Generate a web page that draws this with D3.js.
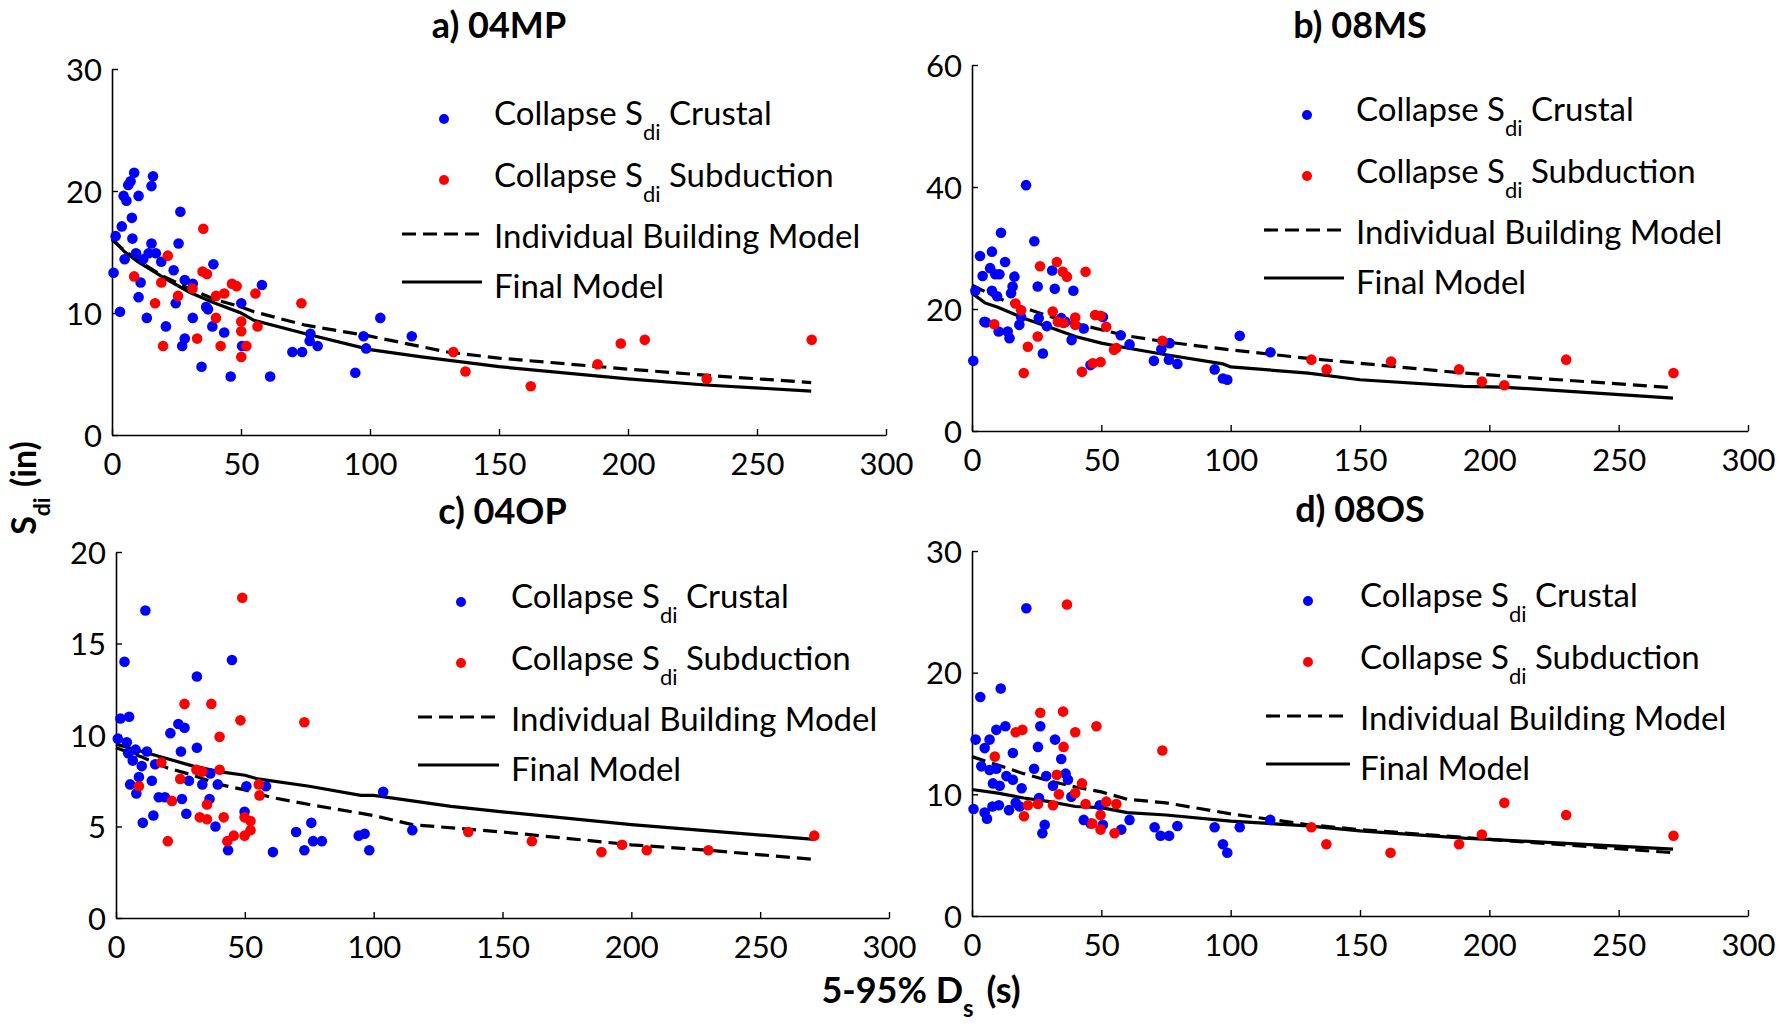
<!DOCTYPE html>
<html>
<head>
<meta charset="utf-8">
<script src="https://cdn.jsdelivr.net/npm/d3@7"></script>
<style>
  html, body { margin: 0; padding: 0; background: #fff; }
  svg { display: block; font-family: Lato, "Open Sans", sans-serif; }
</style>
</head>
<body>
<svg id="chart" width="1779" height="1024"></svg>
<script>
// ---- Data: 5-95% significant duration Ds (s) vs collapse Sdi (in) ----
const xTicks = [0, 50, 100, 150, 200, 250, 300];

// a) 04MP
const crustal04MP = [[0.6,13.3],[1.4,16.3],[3.1,10.1],[3.8,17.1],[4.9,14.4],[4.5,19.6],[5.6,19.2],[6.3,20.5],[7.2,20.8],[8.6,21.5],[7.7,17.8],[7.9,16.1],[9.3,14.9],[10.3,19.6],[11.1,12.5],[10.3,11.3],[12.1,14.4],[13.5,9.6],[14.2,14.9],[15.3,15.7],[15.3,20.4],[15.9,21.2],[17.0,14.9],[19.1,14.2],[20.9,8.9],[23.9,13.5],[24.7,10.8],[25.8,15.7],[26.5,18.3],[27.2,7.3],[28.2,12.7],[28.2,7.9],[31.3,12.4],[31.3,9.6],[34.7,5.6],[36.5,10.5],[37.2,10.3],[38.9,8.9],[39.3,14.0],[43.5,8.4],[46.0,4.8],[50.1,10.8],[50.4,7.3],[58.1,12.3],[61.3,4.8],[69.9,6.8],[73.7,6.8],[76.6,7.7],[76.9,8.3],[79.7,7.3],[94.3,5.1],[97.5,8.1],[98.5,7.1],[104.0,9.6],[116.2,8.1]];
const subduction04MP = [[8.6,13.0],[16.7,10.8],[19.8,7.3],[19.1,12.5],[21.6,14.7],[25.6,11.4],[33.0,7.9],[31.2,12.0],[35.4,16.9],[35.1,13.4],[36.8,13.2],[40.3,11.4],[40.3,9.6],[42.1,7.3],[43.5,11.6],[46.5,12.4],[48.3,12.2],[50.1,9.3],[50.1,8.5],[50.1,6.4],[52.1,7.3],[55.6,11.6],[56.4,8.9],[73.4,10.8],[132.3,6.8],[137.0,5.2],[162.3,4.0],[188.2,5.8],[197.2,7.5],[206.5,7.8],[230.5,4.6],[271.2,7.8]];
const individual04MP = [[0,16.0],[5,15.1],[10,14.3],[20,13.0],[30,12.0],[40,11.1],[50,10.5],[55,10.1],[75,9.0],[100,8.1],[130,6.8],[150,6.3],[200,5.4],[230,4.9],[271,4.3]];
const final04MP = [[0,16.1],[5,15.0],[10,14.2],[20,12.9],[30,11.7],[40,10.8],[50,10.0],[55,9.4],[75,8.3],[100,7.0],[120,6.4],[150,5.6],[200,4.6],[230,4.1],[271,3.6]];
const yTicks04MP = [0, 10, 20, 30];

// b) 08MS
const crustal08MS = [[0.5,11.5],[1.3,23.0],[3.1,28.7],[4.1,25.4],[4.8,17.9],[5.4,17.8],[7.0,26.7],[7.7,29.4],[7.7,23.0],[9.0,25.7],[10.6,25.7],[9.7,22.1],[10.3,16.3],[11.2,32.5],[12.8,27.7],[13.8,16.3],[14.5,15.2],[15.1,22.6],[15.7,23.7],[16.4,25.3],[18.3,17.4],[19.0,18.7],[20.9,40.3],[24.1,31.1],[25.4,23.7],[25.8,18.5],[27.4,12.7],[28.9,17.2],[31.0,26.3],[32.0,23.3],[34.5,18.5],[36.1,17.9],[38.5,14.9],[39.2,23.0],[43.2,16.8],[45.8,10.8],[50.6,18.7],[57.5,15.7],[60.9,14.2],[70.3,11.5],[73.2,13.4],[76.4,14.4],[76.1,11.7],[79.4,11.0],[93.8,10.1],[97.0,8.6],[98.7,8.4],[103.5,15.6],[115.4,12.9]];
const subduction08MS = [[8.6,17.5],[16.8,20.9],[19.0,19.8],[20.0,9.5],[21.6,13.8],[25.4,15.5],[26.3,27.0],[31.2,19.6],[32.8,27.7],[33.2,17.9],[35.1,26.1],[35.4,17.7],[36.7,25.3],[39.9,18.6],[39.9,17.4],[42.5,9.7],[43.9,26.1],[46.7,11.1],[47.6,19.0],[49.7,11.3],[49.7,18.9],[51.9,17.1],[54.9,13.3],[55.8,13.6],[73.6,14.8],[131.2,11.7],[137.1,10.1],[162.0,11.4],[188.3,10.1],[197.1,8.1],[205.8,7.5],[229.7,11.7],[271.2,9.5]];
const individual08MS = [[0,23.9],[10,21.8],[20,20.2],[30,18.8],[40,17.6],[50,16.6],[60,15.6],[75,14.6],[100,13.3],[130,11.9],[150,11.1],[190,9.5],[200,9.2],[271,7.1]];
const final08MS = [[0,22.6],[5,21.0],[10,20.3],[20,18.5],[30,17.0],[40,15.5],[50,14.4],[60,13.6],[75,12.5],[97,11.0],[100,10.5],[130,9.5],[150,8.4],[190,7.3],[205,7.2],[271,5.4]];
const yTicks08MS = [0, 20, 40, 60];

// c) 04OP
const crustal04OP = [[0.7,9.8],[1.7,10.9],[3.3,14.0],[5.1,11.0],[4.2,9.6],[4.7,9.0],[5.5,7.3],[6.5,8.6],[7.6,9.2],[7.9,6.8],[8.9,7.7],[10.0,8.3],[10.4,5.2],[11.4,16.8],[12.0,9.1],[13.9,7.5],[14.5,5.6],[15.2,8.4],[16.6,6.6],[19.0,6.6],[21.1,10.1],[24.2,10.6],[25.2,9.1],[25.6,6.5],[26.6,10.4],[27.3,5.7],[28.3,7.5],[31.4,13.2],[31.4,9.3],[33.5,7.3],[36.3,6.5],[36.6,7.9],[38.6,5.0],[39.5,7.3],[43.5,3.7],[45.0,14.1],[49.9,5.8],[50.6,7.2],[58.2,7.2],[60.9,3.6],[69.9,4.7],[73.1,3.7],[75.8,5.2],[76.5,4.2],[79.9,4.2],[94.2,4.5],[96.5,4.6],[98.3,3.7],[103.7,6.9],[115.0,4.8]];
const subduction04OP = [[8.9,7.2],[17.6,8.5],[20.1,4.2],[21.7,6.4],[24.9,7.6],[26.6,11.7],[31.2,8.1],[32.5,5.5],[33.5,8.0],[35.3,5.4],[35.3,6.2],[37.0,11.7],[40.2,9.9],[40.2,8.1],[41.8,5.5],[43.2,4.2],[45.7,4.5],[48.3,10.8],[49.0,17.5],[49.9,5.5],[49.9,4.5],[52.2,5.3],[52.2,4.8],[55.4,7.3],[55.7,6.7],[73.1,10.7],[136.7,4.7],[161.4,4.2],[188.4,3.6],[196.4,4.0],[206.0,3.7],[229.9,3.7],[271.0,4.5]];
const individual04OP = [[0,9.3],[10,8.8],[20,8.2],[30,7.8],[40,7.3],[50,7.0],[60,6.6],[75,6.2],[100,5.6],[115,5.1],[150,4.7],[200,4.0],[230,3.7],[271,3.2]];
const final04OP = [[0,9.5],[10,9.1],[20,8.7],[30,8.3],[40,8.0],[50,7.8],[55,7.6],[75,7.2],[95,6.7],[100,6.7],[130,6.1],[150,5.8],[200,5.1],[271,4.3]];
const yTicks04OP = [0, 5, 10, 15, 20];

// d) 08OS
const crustal08OS = [[0.6,8.8],[1.4,14.5],[3.2,18.0],[3.6,12.3],[4.9,13.8],[4.9,8.5],[5.8,8.0],[6.8,14.5],[6.8,12.0],[7.9,9.0],[8.1,10.9],[9.4,15.3],[9.4,12.1],[10.4,9.1],[10.7,10.7],[11.1,18.7],[12.9,15.6],[13.3,11.5],[14.3,8.7],[15.8,11.2],[15.8,13.4],[16.9,9.3],[18.4,9.0],[19.2,10.5],[21.0,25.3],[24.0,12.1],[25.5,13.9],[25.9,9.7],[26.4,15.6],[28.1,7.5],[27.2,6.8],[28.7,11.5],[31.3,10.7],[32.1,14.5],[34.5,12.9],[36.2,11.7],[37.1,11.2],[38.4,9.8],[43.2,7.9],[45.9,7.6],[49.4,9.1],[50.6,7.5],[57.7,7.1],[60.9,7.9],[70.6,7.3],[72.9,6.6],[76.2,6.6],[79.4,7.4],[93.8,7.3],[97.0,5.9],[98.7,5.2],[103.5,7.3],[115.3,7.9]];
const subduction08OS = [[8.8,13.1],[16.9,15.1],[19.5,15.3],[20.1,8.2],[21.6,9.1],[25.5,9.2],[26.4,16.7],[31.3,9.1],[32.8,11.6],[33.6,10.0],[35.4,13.9],[35.2,16.8],[36.7,25.6],[39.9,15.1],[39.9,10.1],[42.5,10.9],[43.9,9.2],[46.5,7.6],[48.1,15.6],[49.7,8.3],[49.7,7.1],[51.9,9.4],[55.1,6.8],[55.8,9.2],[73.6,13.6],[131.2,7.3],[137.0,5.9],[161.8,5.2],[188.3,5.9],[197.1,6.7],[205.8,9.3],[229.7,8.3],[271.2,6.6]];
const individual08OS = [[0,13.1],[10,12.4],[20,11.7],[30,11.1],[40,10.6],[50,10.2],[60,9.6],[75,9.3],[100,8.4],[130,7.5],[150,7.1],[200,6.3],[271,5.2]];
const final08OS = [[0,10.4],[10,10.1],[20,9.7],[30,9.4],[40,9.0],[50,8.9],[60,8.5],[75,8.3],[100,7.8],[130,7.4],[150,7.0],[190,6.4],[200,6.3],[271,5.5]];
const yTicks08OS = [0, 10, 20, 30];

const panelTitles = ["a) 04MP", "b) 08MS", "c) 04OP", "d) 08OS"];
const seriesNames = ["Crustal", "Subduction", "Individual Building Model", "Final Model"];

// ---- Layout of the four axes (pixels) ----
const panels = [
  { title: panelTitles[0], crustal: crustal04MP, subduction: subduction04MP, individual: individual04MP, final: final04MP, yTicks: yTicks04MP,
    box: { left: 112, right: 886, top: 69, bottom: 435 }, titleY: 38, legend: { marker: 332, text: 382, line0: 290, line1: 370 } },
  { title: panelTitles[1], crustal: crustal08MS, subduction: subduction08MS, individual: individual08MS, final: final08MS, yTicks: yTicks08MS,
    box: { left: 972, right: 1748, top: 65, bottom: 431 }, titleY: 38, legend: { marker: 335, text: 384, line0: 292, line1: 372 } },
  { title: panelTitles[2], crustal: crustal04OP, subduction: subduction04OP, individual: individual04OP, final: final04OP, yTicks: yTicks04OP,
    box: { left: 116, right: 889, top: 552, bottom: 918 }, titleY: 524, legend: { marker: 345, text: 395, line0: 302, line1: 383 } },
  { title: panelTitles[3], crustal: crustal08OS, subduction: subduction08OS, individual: individual08OS, final: final08OS, yTicks: yTicks08OS,
    box: { left: 972, right: 1748, top: 551, bottom: 916 }, titleY: 522, legend: { marker: 336, text: 388, line0: 294, line1: 378 } }
];

const TICK_FONT = 31, LEG_FONT = 33, SUB = 22, TITLE_FONT = 36, LABEL_FONT = 36;
const BLUE = "#0000ff", RED = "#ff0000";
const DASH = "14,7";
const R = 5.3;
const svg = d3.select("#chart");

// Text with a lowered subscript, e.g. S_di
function subText(sel, main, sub, tail, subSize, drop, gap) {
  sel.append("tspan").text(main);
  sel.append("tspan").attr("font-size", subSize).attr("dy", drop).text(sub);
  sel.append("tspan").attr("dy", -drop).attr("dx", gap).text(tail);
}

panels.forEach(p => {
  const b = p.box;
  const yMax = p.yTicks[p.yTicks.length - 1];
  const x = d3.scaleLinear().domain([0, 300]).range([b.left, b.right]);
  const y = d3.scaleLinear().domain([0, yMax]).range([b.bottom, b.top]);
  const g = svg.append("g");

  // axes: MATLAB-style inward ticks, box off
  const xAxis = d3.axisBottom(x).tickValues(xTicks).tickSizeInner(-6).tickSizeOuter(0).tickPadding(12).tickFormat(d3.format("d"));
  const yAxis = d3.axisLeft(y).tickValues(p.yTicks).tickSizeInner(-6).tickSizeOuter(0).tickPadding(10).tickFormat(d3.format("d"));

  const gx = g.append("g").attr("transform", `translate(0,${b.bottom})`).call(xAxis);
  const gy = g.append("g").attr("transform", `translate(${b.left},0)`).call(yAxis);
  [gx, gy].forEach(a => {
    a.select(".domain").attr("stroke", "#000").attr("stroke-width", 1.6);
    a.selectAll(".tick line").attr("stroke", "#000").attr("stroke-width", 1.4);
    a.selectAll(".tick text").attr("font-size", TICK_FONT).attr("font-family", "Lato, sans-serif").attr("fill", "#000");
  });
  gx.selectAll(".tick text").attr("dy", "0.9em");
  gy.selectAll(".tick text").attr("dy", "0.36em");

  // model curves
  const line = d3.line().x(d => x(d[0])).y(d => y(d[1]));
  g.append("path").datum(p.individual).attr("d", line)
    .attr("fill", "none").attr("stroke", "#000").attr("stroke-width", 3.2).attr("stroke-dasharray", DASH);
  g.append("path").datum(p.final).attr("d", line)
    .attr("fill", "none").attr("stroke", "#000").attr("stroke-width", 3.2);

  // collapse points
  g.append("g").selectAll("circle").data(p.crustal).join("circle")
    .attr("cx", d => x(d[0])).attr("cy", d => y(d[1])).attr("r", R).attr("fill", BLUE);
  g.append("g").selectAll("circle").data(p.subduction).join("circle")
    .attr("cx", d => x(d[0])).attr("cy", d => y(d[1])).attr("r", R).attr("fill", RED);

  // title
  g.append("text").attr("x", (b.left + b.right) / 2).attr("y", p.titleY)
    .attr("text-anchor", "middle").attr("font-size", TITLE_FONT).attr("font-weight", "bold").text(p.title);

  // legend
  const L = p.legend;
  const rows = [56, 118, 179, 229];
  const lg = g.append("g").attr("transform", `translate(${b.left},${b.top})`);
  lg.append("circle").attr("cx", L.marker).attr("cy", 50).attr("r", 5).attr("fill", BLUE);
  lg.append("circle").attr("cx", L.marker).attr("cy", 111).attr("r", 5).attr("fill", RED);
  lg.append("line").attr("x1", L.line0).attr("x2", L.line1).attr("y1", 165).attr("y2", 165)
    .attr("stroke", "#000").attr("stroke-width", 3.2).attr("stroke-dasharray", DASH);
  lg.append("line").attr("x1", L.line0).attr("x2", L.line1).attr("y1", 213).attr("y2", 213)
    .attr("stroke", "#000").attr("stroke-width", 3.2);
  const t1 = lg.append("text").attr("x", L.text).attr("y", rows[0]).attr("font-size", LEG_FONT);
  subText(t1, "Collapse S", "di", " " + seriesNames[0], SUB, 15, 0);
  const t2 = lg.append("text").attr("x", L.text).attr("y", rows[1]).attr("font-size", LEG_FONT);
  subText(t2, "Collapse S", "di", " " + seriesNames[1], SUB, 15, 0);
  lg.append("text").attr("x", L.text).attr("y", rows[2]).attr("font-size", LEG_FONT).text(seriesNames[2]);
  lg.append("text").attr("x", L.text).attr("y", rows[3]).attr("font-size", LEG_FONT).text(seriesNames[3]);
});

// shared axis titles
const yl = svg.append("text").attr("transform", "translate(36,488) rotate(-90)")
  .attr("text-anchor", "middle").attr("font-size", 34).attr("font-weight", "bold");
subText(yl, "S", "di", " (in)", 23, 14, 2);

const xl = svg.append("text").attr("x", 921).attr("y", 1003)
  .attr("text-anchor", "middle").attr("font-size", LABEL_FONT).attr("font-weight", "bold");
subText(xl, "5-95% D", "s", " (s)", 24, 14, 4);
</script>
</body>
</html>
